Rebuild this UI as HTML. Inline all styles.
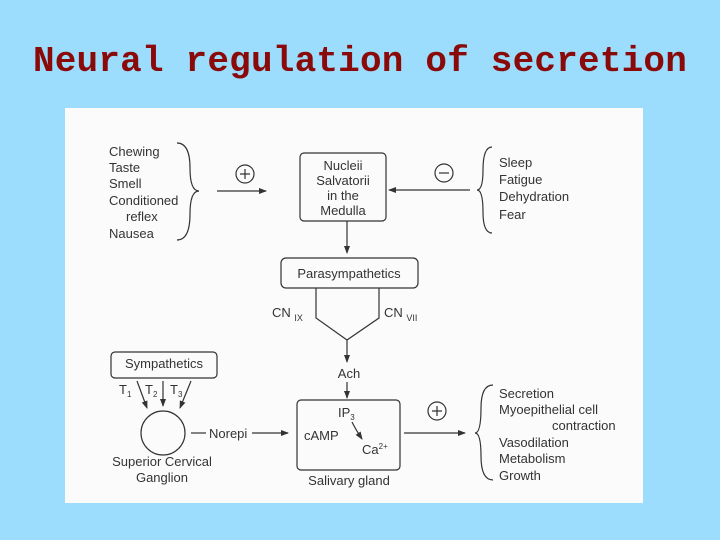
<!DOCTYPE html>
<html><head><style>
body{margin:0;width:720px;height:540px;background:#9cdcfd;overflow:hidden}
.t{position:absolute;left:0;top:41px;width:720px;text-align:center;font:bold 36px "Liberation Mono",monospace;color:#8a0a0a;letter-spacing:0.2px}
svg{position:absolute;left:0;top:0}
text{font-family:"Liberation Sans",sans-serif;font-size:13px;fill:#333}
</style></head><body>
<div class="t">Neural regulation of secretion</div>
<svg width="720" height="540">
<defs><marker id="a" markerWidth="8" markerHeight="8" refX="7" refY="4" orient="auto" markerUnits="userSpaceOnUse"><path d="M0,1 L8,4 L0,7 Z" fill="#333"/></marker></defs>
<rect x="65" y="108" width="578" height="395" fill="#fbfbfb"/>
<g stroke="#333" stroke-width="1.2" fill="none">
<path d="M177,143 Q190,143 190,168 Q190,191 199,191 Q190,191 190,214 Q190,240 177,240"/>
<path d="M492,147 Q483,147 483,170 Q483,190 477,190 Q483,190 483,212 Q483,233 492,233"/>
<path d="M493,385 Q481,385 481,408 Q481,433 475,433 Q481,433 481,456 Q481,480 493,480"/>
<circle cx="245" cy="174" r="9"/><path d="M240,174h10M245,169v10"/>
<circle cx="444" cy="173" r="9"/><path d="M439,173h10"/>
<circle cx="437" cy="411" r="9"/><path d="M432,411h10M437,406v10"/>
<line x1="217" y1="191" x2="266" y2="191" marker-end="url(#a)"/>
<line x1="470" y1="190" x2="389" y2="190" marker-end="url(#a)"/>
<rect x="300" y="153" width="86" height="68" rx="4"/>
<line x1="347" y1="221" x2="347" y2="253" marker-end="url(#a)"/>
<rect x="281" y="258" width="137" height="30" rx="5"/>
<path d="M316,288 V318 L347,340 L379,318 V288"/>
<line x1="347" y1="340" x2="347" y2="362" marker-end="url(#a)"/>
<line x1="347" y1="382" x2="347" y2="398" marker-end="url(#a)"/>
<rect x="297" y="400" width="103" height="70" rx="4"/>
<path d="M352,422 Q356,430 362,439" marker-end="url(#a)"/>
<rect x="111" y="352" width="106" height="26" rx="4"/>
<circle cx="163" cy="433" r="22"/>
<line x1="137" y1="381" x2="147" y2="408" marker-end="url(#a)"/>
<line x1="163" y1="381" x2="163" y2="406" marker-end="url(#a)"/>
<line x1="191" y1="381" x2="180" y2="408" marker-end="url(#a)"/>
<line x1="191" y1="433" x2="206" y2="433"/>
<line x1="252" y1="433" x2="288" y2="433" marker-end="url(#a)"/>
<line x1="404" y1="433" x2="465" y2="433" marker-end="url(#a)"/>
</g>
<text x="109" y="156">Chewing</text>
<text x="109" y="172">Taste</text>
<text x="109" y="188">Smell</text>
<text x="109" y="205">Conditioned</text>
<text x="126" y="221">reflex</text>
<text x="109" y="238">Nausea</text>
<g text-anchor="middle">
<text x="343" y="170" font-size="12.5">Nucleii</text>
<text x="343" y="185" font-size="12.5">Salvatorii</text>
<text x="343" y="200" font-size="12.5">in the</text>
<text x="343" y="215" font-size="12.5">Medulla</text>
<text x="349" y="278">Parasympathetics</text>
<text x="349" y="378">Ach</text>
<text x="164" y="368">Sympathetics</text>
<text x="162" y="466">Superior Cervical</text>
<text x="162" y="482">Ganglion</text>
<text x="349" y="485">Salivary gland</text>
</g>
<text x="499" y="167">Sleep</text>
<text x="499" y="184">Fatigue</text>
<text x="499" y="201">Dehydration</text>
<text x="499" y="219">Fear</text>
<text x="272" y="317">CN <tspan font-size="9" dy="4">IX</tspan></text>
<text x="384" y="317">CN <tspan font-size="9" dy="4">VII</tspan></text>
<text x="119" y="394">T<tspan font-size="8" dy="3">1</tspan></text>
<text x="145" y="394">T<tspan font-size="8" dy="3">2</tspan></text>
<text x="170" y="394">T<tspan font-size="8" dy="3">3</tspan></text>
<text x="209" y="438">Norepi</text>
<text x="338" y="417">IP<tspan font-size="8" dy="3">3</tspan></text>
<text x="304" y="440">cAMP</text>
<text x="362" y="454">Ca<tspan font-size="8" dy="-5">2+</tspan></text>
<text x="499" y="398">Secretion</text>
<text x="499" y="414">Myoepithelial cell</text>
<text x="552" y="430">contraction</text>
<text x="499" y="447">Vasodilation</text>
<text x="499" y="463">Metabolism</text>
<text x="499" y="480">Growth</text>
</svg>
</body></html>
